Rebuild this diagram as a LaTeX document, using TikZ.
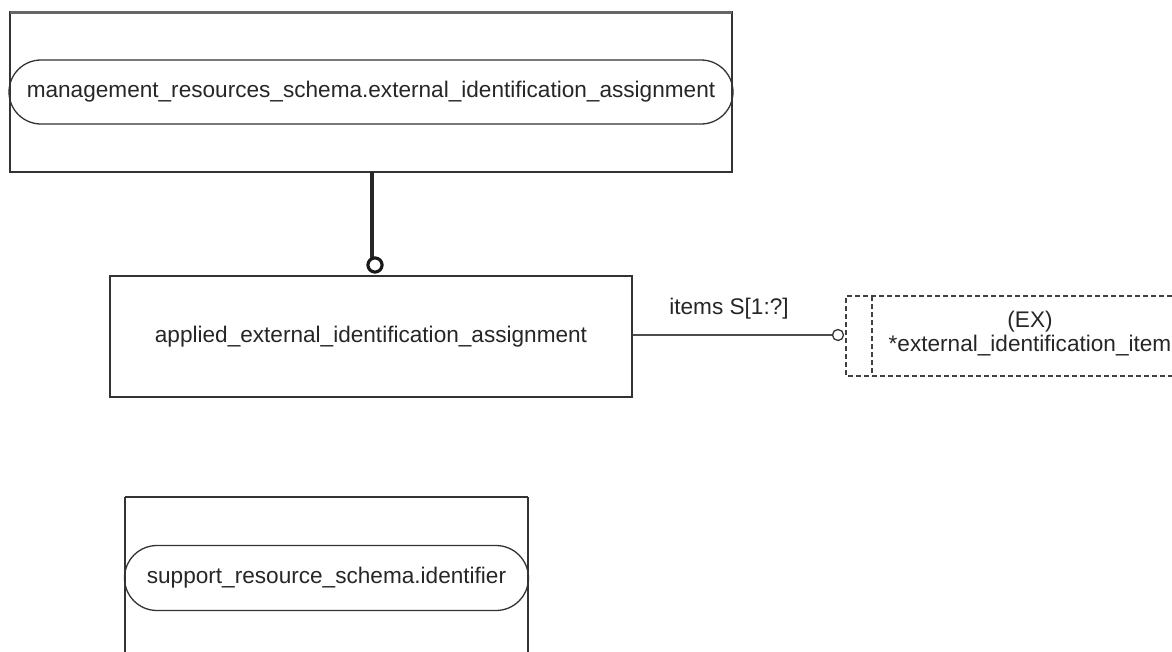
\documentclass[tikz,border=0pt]{standalone}
\usepackage{fontspec}
\setmainfont{Liberation Sans}
\usetikzlibrary{shapes.misc}
\begin{document}
\begin{tikzpicture}[x=1pt,y=-1pt,
  every node/.style={font=\fontsize{22.6}{24}\selectfont, text=black!85},
  frame/.style={draw=black!80, line width=1.6pt},
  pill/.style={draw=black!80, line width=1.3pt, rounded rectangle, inner sep=0pt},
  thickline/.style={draw=black!85, line width=4pt},
  thinline/.style={draw=black!70, line width=1.6pt},
  dashbox/.style={draw=black!75, line width=1.3pt, dash pattern=on 5pt off 3pt}]
\useasboundingbox (0,0) rectangle (1172,651);
% top box
\draw[frame] (10,12) rectangle (732,172);
\draw[draw=black!60, line width=3pt] (10,12) -- (732,12);
\node[pill, minimum width=724pt, minimum height=64pt] (mgmt) at (371,92) {management\_resources\_schema.external\_identification\_assignment};
\coordinate (topbot) at (372,172);
% applied box
\node[frame, minimum width=522pt, minimum height=121pt, inner sep=0pt] (applied) at (371,336.5) {applied\_external\_identification\_assignment};
\node[draw=black!90, line width=3pt, circle, minimum size=14pt, inner sep=0pt, fill=white] (oc) at (375,265) {};
\draw[thickline] (topbot) -- (372,258);
\node[draw=black!90, line width=3pt, circle, minimum size=14pt, inner sep=0pt, fill=white] at (oc) {};
% items connector
\node[draw=black!80, line width=1.3pt, circle, minimum size=11pt, inner sep=0pt] (sc) at (838,335) {};
\draw[thinline] (applied.east |- sc) -- (sc.west);
\node (lbl) at (729,309) {items S[1:?]};
% dashed box
\draw[dashbox] (1180,296) -- (846,296) -- (846,376) -- (1180,376);
\draw[dashbox] (872,296) -- (872,376);
\node[align=center] (ex) at (1030,334) {(EX)\\*external\_identification\_item};
% bottom box
\draw[frame] (125,497) -- (528,497);
\draw[frame] (125,497) -- (125,660);
\draw[frame] (528,497) -- (528,660);
\node[pill, minimum width=404pt, minimum height=65pt] (ident) at (326.5,578) {support\_resource\_schema.identifier};
\end{tikzpicture}
\end{document}
